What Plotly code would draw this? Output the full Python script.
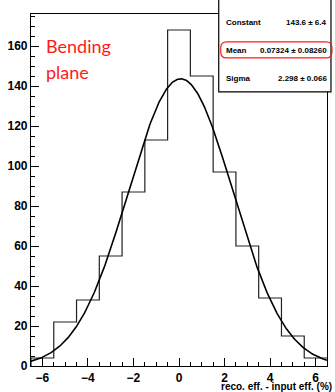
import numpy as np
import plotly.graph_objects as go

# ---- data ----
bin_centers = [-6, -5, -4, -3, -2, -1, 0, 1, 2, 3, 4, 5, 6]
counts = [4, 22, 33, 55, 87, 113, 168, 145, 97, 60, 34, 15, 4]
fit_constant = 143.6
fit_mean = 0.07324
fit_sigma = 2.298
stat_names = ["Constant", "Mean", "Sigma"]
stat_values = ["143.6 ± 6.4", "0.07324 ± 0.08260", "2.298 ± 0.066"]
x_ticks = [-6, -4, -2, 0, 2, 4, 6]
y_ticks = [0, 20, 40, 60, 80, 100, 120, 140, 160]
x_title = "reco. eff. - input eff. (%)"
label_lines = ["Bending", "plane"]

# ---- layout geometry ----
W, H = 335, 392
L, R, T, B = 30, 7, 14, 25
pw, ph = W - L - R, H - T - B


def xp(px):
    return (px - L) / pw


def yp(py):
    return (H - B - py) / ph


# histogram outline (step)
edges = [c - 0.5 for c in bin_centers] + [bin_centers[-1] + 0.5]
hx = [edges[0]] + edges
hy = [0] + counts + [counts[-1]]

xs = np.linspace(-6.5, 6.5, 400)
ys = fit_constant * np.exp(-0.5 * ((xs - fit_mean) / fit_sigma) ** 2)

fig = go.Figure()
fig.add_trace(go.Scatter(x=hx, y=hy, mode="lines", line=dict(shape="hv", color="#222", width=1.2),
                         hoverinfo="skip", showlegend=False))
fig.add_trace(go.Scatter(x=xs, y=ys, mode="lines", line=dict(color="black", width=1.6),
                         hoverinfo="skip", showlegend=False))

tickfont = dict(family="Liberation Sans, Arial, sans-serif", size=12, color="black", weight="bold")

fig.update_xaxes(range=[-6.5, 6.5], tickvals=x_ticks, ticks="inside", ticklen=8, tickwidth=1,
                 tickcolor="black", showline=True, linecolor="black", linewidth=1.2, mirror=True,
                 showgrid=False, zeroline=False, tickfont=tickfont,
                 minor=dict(dtick=0.5, ticks="inside", ticklen=4, tickcolor="black", tickwidth=1, showgrid=False))
fig.update_yaxes(range=[0, 176], tickvals=y_ticks, ticks="inside", ticklen=8, tickwidth=1,
                 tickcolor="black", showline=True, linecolor="black", linewidth=1.2, mirror=True,
                 showgrid=False, zeroline=False, tickfont=tickfont,
                 minor=dict(dtick=5, ticks="inside", ticklen=4, tickcolor="black", tickwidth=1, showgrid=False))

shapes = []
# stats box
shapes.append(dict(type="rect", xref="paper", yref="paper", x0=xp(219), x1=xp(332), y0=yp(92), y1=yp(-2),
                   fillcolor="white", line=dict(color="black", width=1.2), layer="above"))
# red rounded rectangle around Mean
x0, x1, y0, y1 = xp(221), xp(333), yp(58), yp(42)
rx, ry = 6 / pw, 6 / ph
path = (f"M {x0+rx},{y1} L {x1-rx},{y1} Q {x1},{y1} {x1},{y1-ry} L {x1},{y0+ry} "
        f"Q {x1},{y0} {x1-rx},{y0} L {x0+rx},{y0} Q {x0},{y0} {x0},{y0+ry} "
        f"L {x0},{y1-ry} Q {x0},{y1} {x0+rx},{y1} Z")
shapes.append(dict(type="path", xref="paper", yref="paper", path=path,
                   line=dict(color="#ff1a1a", width=1.2), layer="above"))
fig.update_layout(shapes=shapes)

annots = []
statfont = dict(family="Liberation Sans, Arial, sans-serif", size=8, color="black", weight="bold")
for i, (n, v) in enumerate(zip(stat_names, stat_values)):
    yc = [22.5, 50.5, 78.5][i]
    annots.append(dict(x=xp(224), y=yp(yc), xref="paper", yref="paper", text=n, showarrow=False,
                       xanchor="left", yanchor="middle", font=statfont))
    annots.append(dict(x=xp(330), y=yp(yc), xref="paper", yref="paper", text=v, showarrow=False,
                       xanchor="right", yanchor="middle", font=statfont))

redfont = dict(family="Lato, sans-serif", size=18, color="#ff1a1a")
for i, t in enumerate(label_lines):
    annots.append(dict(x=xp(43), y=yp([46, 72][i]), xref="paper", yref="paper", text=t, showarrow=False,
                       xanchor="left", yanchor="middle", font=redfont))

annots.append(dict(x=xp(334), y=yp(394), xref="paper", yref="paper", text=x_title, showarrow=False,
                   xanchor="right", yanchor="bottom", borderpad=0,
                   font=dict(family="Liberation Sans, Arial, sans-serif", size=10, color="black", weight="bold")))
fig.update_layout(annotations=annots)

fig.update_layout(width=W, height=H, margin=dict(l=L, r=R, t=T, b=B, pad=0),
                  paper_bgcolor="white", plot_bgcolor="white")

fig.write_html("out.html")
